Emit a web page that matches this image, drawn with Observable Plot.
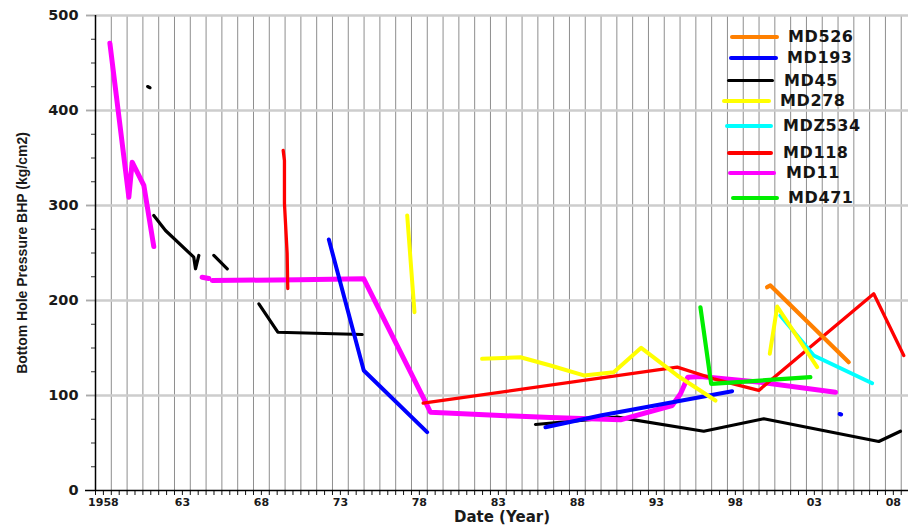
<!DOCTYPE html>
<html>
<head>
<meta charset="utf-8">
<script src="https://cdn.jsdelivr.net/npm/d3@7"></script>
<script src="https://cdn.jsdelivr.net/npm/@observablehq/plot@0.6"></script>
<style>
  html, body { margin: 0; padding: 0; background: #fff; }
  #wrap { position: relative; width: 908px; height: 532px; overflow: hidden; }
  .lg-line { position: absolute; height: 4px; border-radius: 2px; }
  .lg-text { position: absolute; font: bold 16px "DejaVu Sans", sans-serif; letter-spacing: 0.6px; color: #151515; line-height: 16px; }
</style>
</head>
<body>
<div id="wrap"></div>
<script>
// ---- Data (year, BHP kg/cm2); each well has one or more separate segments ----
const wells  = ["MD526", "MD193", "MD45", "MD278", "MDZ534", "MD118", "MD11", "MD471"];
const colors = ["#ff8000", "#0000ff", "#000000", "#ffff00", "#00ffff", "#ff0000", "#ff00ff", "#00ee00"];

const MD526 = [
  [[2000.01, 214], [2000.22, 215.8], [2005.18, 135.1]]
];
const MD193 = [
  [[1972.27, 264.2], [1974.48, 126.3], [1978.49, 61.4]],
  [[1985.98, 66.6], [1989.46, 78.9], [1997.8, 104.5]],
  [[2004.6, 80.5], [2004.7, 80]]
];
const MD45 = [
  [[1960.8, 425.2], [1960.95, 424]],
  [[1961.19, 289.5], [1961.93, 273.7], [1963.72, 245.6], [1963.83, 233.4], [1964.04, 247.4]],
  [[1964.99, 247.4], [1965.84, 233.4]],
  [[1967.84, 196.5], [1969.04, 166.6], [1972.58, 165], [1974.38, 164.2]],
  [[1985.35, 69.5], [1990.52, 77.2], [1996.0, 62.4], [1999.8, 75.5], [2007.08, 51.6], [2008.45, 62.4]]
];
const MD278 = [
  [[1977.23, 289.5], [1977.69, 187.7]],
  [[1981.97, 138.6], [1984.4, 140.3], [1986.3, 131.6], [1988.41, 121.1], [1990.3, 124.5], [1992.04, 150.2], [1994.32, 121.1], [1996.74, 94.7]],
  [[2000.18, 143.9], [2000.65, 193.7], [2003.18, 129.8]]
];
const MDZ534 = [
  [[2000.85, 184.2], [2002.96, 142.1], [2006.66, 112.9]]
];
const MD118 = [
  [[1969.38, 357.9], [1969.46, 347.4], [1969.46, 302.1], [1969.63, 249.5], [1969.67, 212.6]],
  [[1978.24, 91.9], [1994.32, 129.8], [1996.63, 117.6], [1999.48, 105.3], [2000.22, 115.8], [2006.76, 207.1], [2008.66, 142.1]]
];
const MD11 = [
  [[1958.41, 470.8], [1959.61, 308.7], [1959.82, 345.6], [1960.56, 321.1], [1961.19, 256.8]],
  [[1964.25, 224.5], [1964.67, 223.2]],
  [[1964.89, 221.1], [1970.37, 221.8], [1974.48, 222.8], [1978.39, 93], [1978.7, 82.4], [1983.13, 78.9], [1986.3, 76.8], [1990.73, 74.4], [1994.0, 89.5], [1994.53, 101.8], [1994.99, 119.3], [1995.79, 120], [1999.59, 114], [2004.34, 103.5]]
];
const MD471 = [
  [[1995.79, 192.9], [1996.47, 112.3], [2002.75, 119.3]]
];

const xTickYears  = [1958, 1963, 1968, 1973, 1978, 1983, 1988, 1993, 1998, 2003, 2008];
const xTickLabels = ["1958", "63", "68", "73", "78", "83", "88", "93", "98", "03", "08"];
const yTicks = [0, 100, 200, 300, 400, 500];
const xTitle = "Date (Year)";
const yTitle = "Bottom Hole Pressure BHP (kg/cm2)";

// ---- build tables ----
const seriesByWell = {MD526, MD193, MD45, MD278, MDZ534, MD118, MD11, MD471};
const colorOf = new Map(wells.map((w, i) => [w, colors[i]]));
function rowsOf(w) {
  const out = [];
  seriesByWell[w].forEach((seg, s) => seg.forEach(([year, bhp]) => out.push({well: w, key: w + "-" + s, year, bhp})));
  return out;
}
const drawOrder = ["MD45", "MD11", "MD118", "MD193", "MDZ534", "MD278", "MD471", "MD526"];
const widthOf = {MD45: 3.2, MD11: 5, MD118: 3.3, MD193: 4, MDZ534: 4, MD278: 4, MD471: 4.2, MD526: 4.2};

const xMin = 1957.5, xMax = 2008.96;
const gridYears = d3.range(0, 52).map(k => xMin + k);
const halfYears = d3.range(0, 103).map(k => xMin + k * 0.5);
const minorY = d3.range(25, 500, 25).filter(v => v % 100 !== 0);
const labelOf = new Map(xTickYears.map((y, i) => [y, xTickLabels[i]]));

const numFont = '"DejaVu Sans", sans-serif';

const chart = Plot.plot({
  width: 908,
  height: 532,
  marginLeft: 95,
  marginRight: 0,
  marginTop: 15,
  marginBottom: 42,
  x: {domain: [xMin, xMax], axis: null},
  y: {domain: [0, 500], axis: null},
  style: {background: "white", overflow: "visible"},
  marks: [
    Plot.ruleX(gridYears.slice(1), {stroke: "#8e8e8e", strokeWidth: 1}),
    Plot.ruleY(yTicks.slice(1), {stroke: "#cdcdcd", strokeWidth: 2.5, insetLeft: -9}),
    // minor y ticks
    Plot.axisY(minorY, {anchor: "left", label: null, tickSize: 4, tickFormat: () => "", stroke: "#333"}),
    // major y ticks + labels
    Plot.axisY(yTicks, {anchor: "left", label: null, tickSize: 9, tickPadding: 8, stroke: "#aaa",
      fontSize: 14.5, fontWeight: "bold", fontFamily: numFont, fill: "#1a1a1a"}),
    // x minor ticks
    Plot.axisX(halfYears, {anchor: "bottom", label: null, tickSize: 5, tickFormat: () => "", stroke: "#111"}),
    // x tick labels
    Plot.axisX(xTickYears, {anchor: "bottom", label: null, tickSize: 0, tickPadding: 8, tickFormat: d => labelOf.get(d),
      fontSize: 11, fontWeight: "bold", fontFamily: numFont, fill: "#1a1a1a"}),
    // axis lines
    Plot.ruleX([xMin], {stroke: "#000", strokeWidth: 1.5}),
    Plot.ruleY([0], {stroke: "#000", strokeWidth: 1.5, insetLeft: -10}),
    // data
    ...drawOrder.map(w => Plot.line(rowsOf(w), {x: "year", y: "bhp", z: "key",
      stroke: colorOf.get(w), strokeWidth: widthOf[w], strokeLinecap: "round", strokeLinejoin: "round"})),
    // axis titles
    Plot.text([yTitle], {frameAnchor: "left", textAnchor: "middle", rotate: -90, dx: -73, fontSize: 14, fontWeight: "bold",
      fontFamily: '"Liberation Sans", Arial, sans-serif', fill: "#1a1a1a"}),
    Plot.text([xTitle], {frameAnchor: "bottom", textAnchor: "middle", dy: 31, fontSize: 15, fontWeight: "bold", fontFamily: numFont, fill: "#1a1a1a"})
  ]
});

const wrap = document.getElementById("wrap");
wrap.appendChild(chart);

// ---- legend (HTML overlay inside the plot area) ----
const legendLayout = [
  {lx1: 730, lx2: 779, ly: 36.5, tx: 788},
  {lx1: 729, lx2: 778, ly: 57.5, tx: 787},
  {lx1: 727, lx2: 774, ly: 81,   tx: 784},
  {lx1: 722, lx2: 771, ly: 100.5, tx: 780},
  {lx1: 725, lx2: 773, ly: 126,  tx: 783},
  {lx1: 727, lx2: 773, ly: 153,  tx: 783},
  {lx1: 728, lx2: 776, ly: 172.5, tx: 786},
  {lx1: 731, lx2: 779, ly: 198,  tx: 788}
];
wells.forEach((w, i) => {
  const L = legendLayout[i];
  const line = document.createElement("div");
  line.className = "lg-line";
  line.style.left = L.lx1 + "px";
  line.style.width = (L.lx2 - L.lx1) + "px";
  line.style.top = (L.ly - 2) + "px";
  line.style.background = colors[i];
  if (w === "MD45") { line.style.height = "3px"; }
  wrap.appendChild(line);
  const t = document.createElement("div");
  t.className = "lg-text";
  t.style.left = L.tx + "px";
  t.style.top = (L.ly - 8) + "px";
  t.textContent = w;
  wrap.appendChild(t);
});
</script>
</body>
</html>
